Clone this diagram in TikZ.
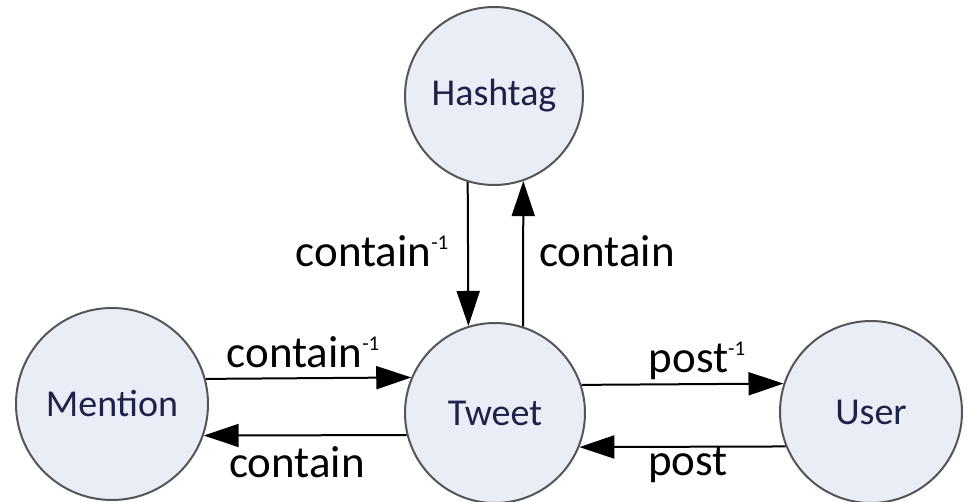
\documentclass[tikz,border=0pt]{standalone}
\usepackage{fontspec}
\setmainfont{Carlito}
\usetikzlibrary{arrows.meta}
\definecolor{nodefill}{HTML}{E9EDF6}
\definecolor{nodetext}{HTML}{1E2248}
\definecolor{nodeline}{HTML}{555555}
\newcommand{\invsup}{\raisebox{17pt}{\fontsize{21}{21}\selectfont -1}}
\tikzset{
  entity/.style={circle, draw=nodeline, line width=2pt, fill=nodefill, text=nodetext, inner sep=0pt, font=\fontsize{38}{42}\selectfont},
  rel/.style={draw=black, line width=2pt, -{Triangle[length=35pt,width=23pt]}},
  lbl/.style={font=\fontsize{45}{48}\selectfont, inner sep=0pt, anchor=base}
}
\begin{document}
\begin{tikzpicture}[x=1pt,y=-1pt]
\useasboundingbox (0,0) rectangle (970,502);
\node[entity, minimum size=178pt] (H) at (494,96) {Hashtag};
\node[entity, minimum size=180pt] (T) at (495,413) {Tweet};
\node[entity, minimum size=192pt] (M) at (112,404) {Mention};
\node[entity, minimum size=182pt] (U) at (871,412) {User};

\draw[rel] (H.-107) -- (T.107.5);
\draw[rel] (T.72) -- (H.-71);
\draw[rel] (M.15) -- (T.157.8);
\draw[rel] (T.194.8) -- (M.-19.5);
\draw[rel] (T.18.8) -- (U.162.1);
\draw[rel] (U.202.6) -- (T.-22.2);

\node[lbl] (l1) at (372,267) {contain\invsup};
\node[lbl] (l2) at (607,267) {contain};
\node[lbl] (l3) at (303,368) {contain\invsup};
\node[lbl] (l4) at (297,478) {contain};
\node[lbl] (l5) at (697,373) {post\invsup};
\node[lbl] (l6) at (688,476) {post};
\end{tikzpicture}
\end{document}
